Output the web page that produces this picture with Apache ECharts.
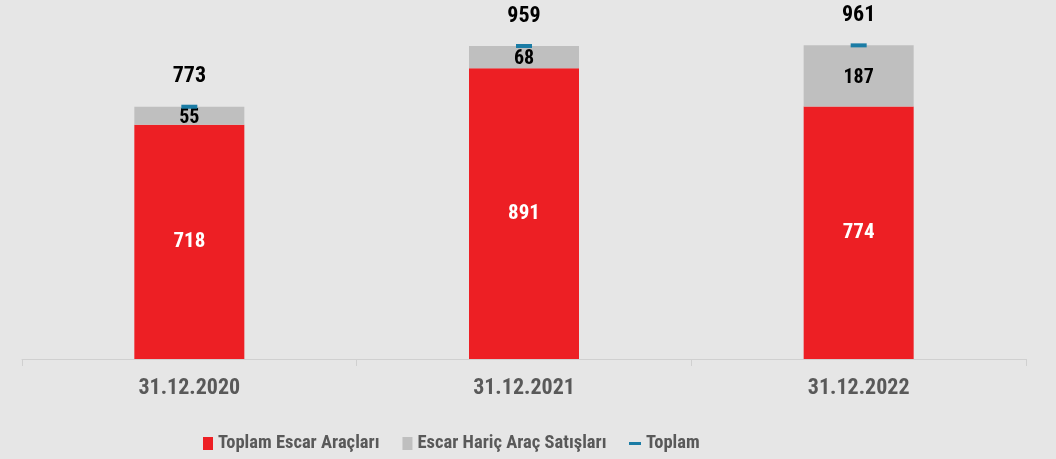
<!DOCTYPE html>
<html><head><meta charset="utf-8">
<script src="https://cdn.jsdelivr.net/npm/echarts@6/dist/echarts.min.js"></script>
<style>html,body{margin:0;padding:0;background:#e6e6e6}#c{width:1056px;height:459px}</style>
</head><body><div id="c"></div>
<script>
var categories = ['31.12.2020', '31.12.2021', '31.12.2022'];
var escarVehicles = [718, 891, 774];
var nonEscarSales = [55, 68, 187];
var totals = [773, 959, 961];
var seriesNames = ['Toplam Escar Araçları', 'Escar Hariç Araç Satışları', 'Toplam'];

var FONT = "'Roboto Condensed', 'Liberation Sans', Arial, sans-serif";
var chart = echarts.init(document.getElementById('c'));
chart.setOption({
  backgroundColor: '#e6e6e6',
  animation: false,
  grid: {left: 22, right: 30, top: 0, bottom: 100},
  xAxis: {
    type: 'category', data: categories,
    axisLine: {lineStyle: {color: '#d0d0d0', width: 1}},
    axisTick: {show: true, length: 7, lineStyle: {color: '#d0d0d0'}},
    axisLabel: {color: '#595959', fontFamily: FONT, fontWeight: 'bold', fontSize: 22, margin: 18}
  },
  yAxis: {type: 'value', min: 0, max: 1100, show: false, splitLine: {show: false}},
  legend: [{
    data: [seriesNames[0], seriesNames[1]], icon: 'rect',
    left: 203, top: 434, padding: 0, itemWidth: 10, itemHeight: 13, itemGap: 23,
    textStyle: {color: '#595959', fontFamily: FONT, fontWeight: 'bold', fontSize: 18.5}
  }, {
    data: [seriesNames[2]], icon: 'rect',
    left: 629, top: 434, padding: 0, itemWidth: 12, itemHeight: 3,
    textStyle: {color: '#595959', fontFamily: FONT, fontWeight: 'bold', fontSize: 18.5}
  }],
  series: [{
    name: seriesNames[0], type: 'bar', stack: 's', data: escarVehicles, barWidth: 110,
    itemStyle: {color: '#ed1f24'},
    label: {show: true, position: 'inside', color: '#ffffff', fontFamily: FONT, fontWeight: 'bold', fontSize: 21}
  }, {
    name: seriesNames[1], type: 'bar', stack: 's', data: nonEscarSales, barWidth: 110,
    itemStyle: {color: '#bfbfbf'},
    label: {show: true, position: 'inside', offset: [0, 2], color: '#000000', fontFamily: FONT, fontWeight: 'bold', fontSize: 20}
  }, {
    name: seriesNames[2], type: 'scatter', data: totals, symbol: 'rect', symbolSize: [16, 4],
    itemStyle: {color: '#1b7ca5', opacity: 1}, z: 5,
    label: {show: true, position: 'top', distance: 17, color: '#000000', fontFamily: FONT, fontWeight: 'bold', fontSize: 22},
    emphasis: {disabled: true}
  }]
});
</script></body></html>
